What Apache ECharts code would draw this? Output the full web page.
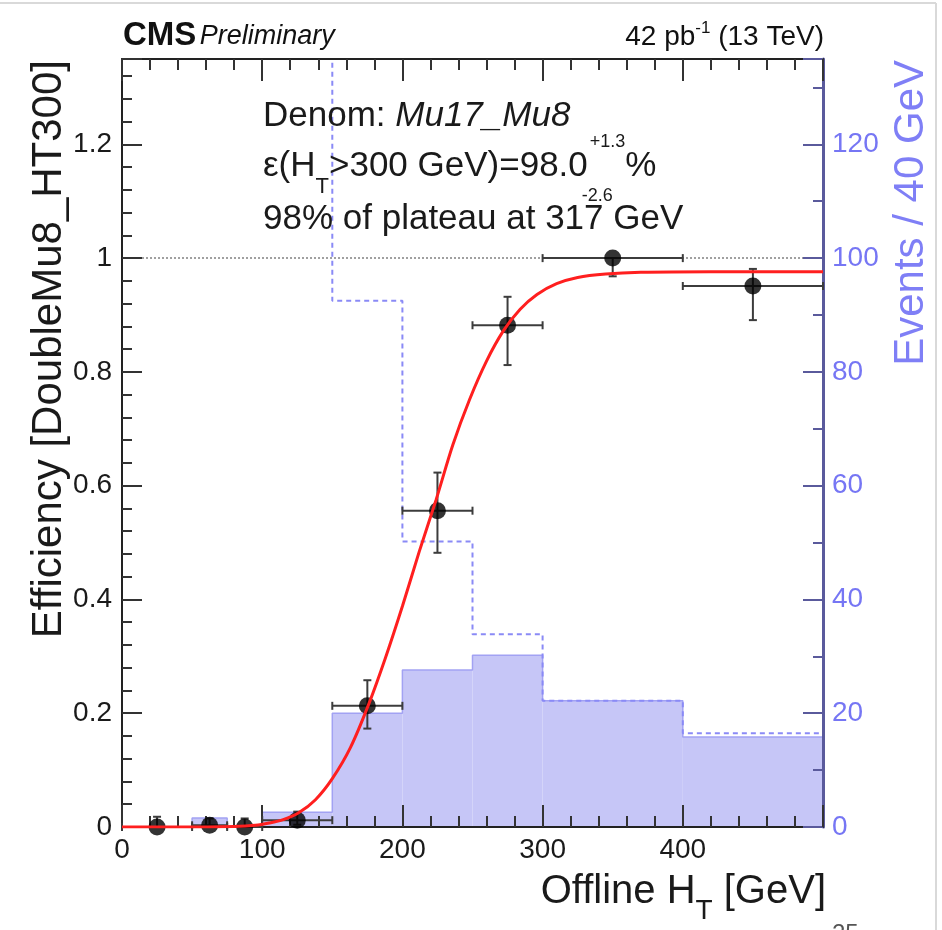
<!DOCTYPE html>
<html>
<head>
<meta charset="utf-8">
<script src="https://cdn.jsdelivr.net/npm/echarts@6/dist/echarts.min.js"></script>
<style>
  html, body { margin: 0; padding: 0; background: #fff; }
  #chart { width: 942px; height: 930px; }
</style>
</head>
<body>
<div id="chart"></div>
<script>
// ---- data ----
// HT bin edges [GeV] of the efficiency points and the filled histogram
const binEdges = [0, 50, 75, 100, 150, 200, 250, 300, 400, 500];
// filled histogram, events per bin (right axis)
const eventsFilled = [0, 1.6, 0, 2.6, 20.0, 27.6, 30.2, 22.2, 15.8];
// dashed histogram (right axis); the 100-150 GeV bin is above the axis range
const dashedEdges = [100, 150, 200, 250, 300, 400, 500];
const eventsDashed = [160, 92.5, 50.2, 33.9, 22.2, 16.5];
// efficiency points (left axis)
const effX = [25, 62.5, 87.5, 125, 175, 225, 275, 350, 450];
const effY = [0.0, 0.003, 0.0, 0.012, 0.213, 0.556, 0.882, 1.0, 0.951];
const effErrUp = [0.018, 0.012, 0.015, 0.015, 0.045, 0.067, 0.05, 0.0, 0.03];
const effErrDown = [0.0, 0.003, 0.0, 0.008, 0.04, 0.074, 0.07, 0.032, 0.06];
// fitted turn-on curve
const fitX = [0, 40, 80, 95, 105, 115, 126, 138, 150, 163, 176, 188, 200, 212, 224, 236, 248, 260, 272, 284, 296, 310, 325, 345, 370, 420, 500];
const fitY = [0, 0, 0.001, 0.003, 0.007, 0.013, 0.025, 0.048, 0.085, 0.14, 0.216, 0.298, 0.388, 0.484, 0.575, 0.672, 0.752, 0.819, 0.872, 0.910, 0.936, 0.955, 0.966, 0.972, 0.975, 0.976, 0.976];
// tick labels
const xTickValues = [0, 100, 200, 300, 400];
const xTickLabels = ['0', '100', '200', '300', '400'];
const effTickValues = [0, 0.2, 0.4, 0.6, 0.8, 1.0, 1.2];
const effTickLabels = ['0', '0.2', '0.4', '0.6', '0.8', '1', '1.2'];
const evtTickValues = [0, 20, 40, 60, 80, 100, 120];
const evtTickLabels = ['0', '20', '40', '60', '80', '100', '120'];

// ---- styling ----
const FONT = '"Liberation Sans", Arial, Helvetica, sans-serif';
const BLUE_AXIS = '#5a5a9c';
const BLUE_TEXT = '#7676f4';
const FILL = '#c6c6f7';

function labelFor(values, labels) {
  return function (v) {
    for (let i = 0; i < values.length; i++) {
      if (Math.abs(values[i] - v) < 1e-6) return labels[i];
    }
    return '';
  };
}

// step outline built from bin edges and contents
function stepPath(edges, vals, startAtZero) {
  const pts = [];
  if (startAtZero) pts.push([edges[0], 0]);
  for (let i = 0; i < vals.length; i++) {
    pts.push([edges[i], vals[i]]);
    pts.push([edges[i + 1], vals[i]]);
  }
  return pts;
}

const histData = eventsFilled.map((v, i) => [binEdges[i], binEdges[i + 1], v]);
const pointData = effX.map((x, i) => [x, effY[i]]);
const errData = effX.map((x, i) => [x, effY[i], binEdges[i], binEdges[i + 1],
  effY[i] - effErrDown[i], effY[i] + effErrUp[i]]);
const fitData = fitX.map((x, i) => [x, fitY[i]]);

// ---- text helpers ----
const mctx = document.createElement('canvas').getContext('2d');
function fontOf(r) {
  return (r.italic ? 'italic ' : '') + (r.bold ? 'bold ' : '') + r.size + 'px ' + FONT;
}
function widthOf(r) { mctx.font = fontOf(r); return mctx.measureText(r.text).width; }
function textEl(x, y, r, color) {
  return {
    type: 'text', x: x, y: y, z: 100,
    style: {
      text: r.text, font: fontOf(r), fill: r.color || color,
      textAlign: 'left', align: 'left',
      textVerticalAlign: 'middle', verticalAlign: 'middle'
    }
  };
}
// lays out a run list on one line; items may be {stack:[sup, sub]}
function textLine(x, y, list, color, alignRight) {
  const widths = list.map(r => r.stack ? Math.max(...r.stack.map(s => widthOf(s) + (s.dx || 0))) : widthOf(r));
  const total = widths.reduce((a, b) => a + b, 0);
  let cx = alignRight ? x - total : x;
  const els = [];
  list.forEach((r, i) => {
    if (r.stack) {
      r.stack.forEach(s => els.push(textEl(cx + (s.dx || 0), y + (s.dy || 0), s, color)));
    } else {
      els.push(textEl(cx, y + (r.dy || 0), r, color));
    }
    cx += widths[i];
  });
  return els;
}

const graphics = [];
// page frame
graphics.push({ type: 'line', shape: { x1: 0, y1: 3, x2: 936, y2: 3 }, style: { stroke: '#d9d9d9', lineWidth: 2 }, z: 100 });
graphics.push({ type: 'line', shape: { x1: 936, y1: 3, x2: 936, y2: 930 }, style: { stroke: '#d9d9d9', lineWidth: 2 }, z: 100 });
// page number
graphics.push(textEl(832, 934, { text: '25', size: 24 }, '#555'));

// header
graphics.push(...textLine(123, 36, [
  { text: 'CMS', size: 33, bold: true },
  { text: ' ', size: 12 },
  { text: 'Preliminary', size: 27, italic: true }
], '#111'));
graphics.push(...textLine(824, 37, [
  { text: '42 pb', size: 28 },
  { text: '-1', size: 17, dy: -9 },
  { text: ' (13 TeV)', size: 28 }
], '#111', true));

// annotation block
graphics.push(...textLine(263, 116, [
  { text: 'Denom: ', size: 35 },
  { text: 'Mu17_Mu8', size: 35, italic: true }
], '#1a1a1a'));
graphics.push(...textLine(263, 166, [
  { text: '\u03b5(H', size: 35 },
  { text: 'T', size: 22, dy: 21 },
  { text: '>300 GeV)=98.0', size: 35 },
  { stack: [ { text: '+1.3', size: 18, dy: -24, dx: 2 }, { text: '-2.6', size: 18, dy: 30, dx: -6 } ] },
  { text: '%', size: 35 }
], '#1a1a1a'));
graphics.push(...textLine(263, 219, [
  { text: '98% of plateau at 317 GeV', size: 35 }
], '#1a1a1a'));

// axis titles
graphics.push(...textLine(826, 892, [
  { text: 'Offline H', size: 40 },
  { text: 'T', size: 28, dy: 19 },
  { text: ' [GeV]', size: 40 }
], '#1a1a1a', true));
graphics.push({
  type: 'text', x: 49, y: 60, rotation: Math.PI / 2, z: 100,
  style: { text: 'Efficiency [DoubleMu8_HT300]', font: '42px ' + FONT, fill: '#1a1a1a',
    textAlign: 'right', align: 'right', textVerticalAlign: 'middle', verticalAlign: 'middle' }
});
graphics.push({
  type: 'text', x: 911, y: 60, rotation: Math.PI / 2, z: 100,
  style: { text: 'Events / 40 GeV', font: '42px ' + FONT, fill: '#7f7ff6',
    textAlign: 'right', align: 'right', textVerticalAlign: 'middle', verticalAlign: 'middle' }
});

function xAxisCfg(pos, showLabels) {
  return {
    type: 'value', position: pos, min: 0, max: 500, interval: 100, z: 5,
    axisLine: { show: true, onZero: false, lineStyle: { color: '#222', width: 2 } },
    axisTick: { show: true, inside: true, length: 22, lineStyle: { color: '#333', width: 2 } },
    minorTick: { show: true, splitNumber: 5, length: 11, lineStyle: { color: '#333', width: 2 } },
    splitLine: { show: false },
    axisLabel: { show: showLabels, fontSize: 28, fontFamily: FONT, color: '#1a1a1a', margin: 9,
      formatter: labelFor(xTickValues, xTickLabels), showMaxLabel: false }
  };
}

const option = {
  backgroundColor: '#fff',
  animation: false,
  grid: { left: 122, top: 59, width: 701, height: 768, containLabel: false },
  xAxis: [xAxisCfg('bottom', true), xAxisCfg('top', false)],
  yAxis: [
    {
      type: 'value', position: 'left', min: 0, max: 1.35, interval: 0.2, z: 5,
      axisLine: { show: true, onZero: false, lineStyle: { color: '#222', width: 2 } },
      axisTick: { show: true, inside: true, length: 20, lineStyle: { color: '#333', width: 2 } },
      minorTick: { show: true, splitNumber: 5, length: 10, lineStyle: { color: '#333', width: 2 } },
      splitLine: { show: false },
      axisLabel: { fontSize: 28, fontFamily: FONT, color: '#1a1a1a', margin: 10,
        showMaxLabel: false, formatter: labelFor(effTickValues, effTickLabels) }
    },
    {
      type: 'value', position: 'right', min: 0, max: 135, interval: 20, z: 5,
      axisLine: { show: true, onZero: false, lineStyle: { color: BLUE_AXIS, width: 3 } },
      axisTick: { show: true, inside: true, length: 20, lineStyle: { color: BLUE_AXIS, width: 2 } },
      minorTick: { show: true, splitNumber: 2, length: 10, lineStyle: { color: BLUE_AXIS, width: 2 } },
      splitLine: { show: false },
      axisLabel: { fontSize: 28, fontFamily: FONT, color: BLUE_TEXT, margin: 9,
        showMaxLabel: false, formatter: labelFor(evtTickValues, evtTickLabels) }
    }
  ],
  graphic: { elements: graphics },
  series: [
    {
      // filled histogram
      type: 'custom', xAxisIndex: 0, yAxisIndex: 1, z: 2, clip: true, silent: true,
      data: histData,
      encode: { x: [0, 1], y: 2 },
      renderItem: function (params, api) {
        const p0 = api.coord([api.value(0), api.value(2)]);
        const p1 = api.coord([api.value(1), 0]);
        return { type: 'rect', shape: { x: p0[0], y: p0[1], width: p1[0] - p0[0], height: p1[1] - p0[1] },
          style: { fill: FILL } };
      }
    },
    {
      // outline of the filled histogram
      type: 'line', xAxisIndex: 0, yAxisIndex: 1, z: 3, silent: true,
      data: stepPath(binEdges, eventsFilled, true),
      showSymbol: false, symbol: 'none',
      lineStyle: { color: '#a2a2f3', width: 1.5 }
    },
    {
      // dashed histogram
      type: 'line', xAxisIndex: 0, yAxisIndex: 1, z: 3, silent: true, clip: true,
      data: stepPath(dashedEdges, eventsDashed, false),
      showSymbol: false, symbol: 'none',
      lineStyle: { color: '#8a8af6', width: 2, type: [5, 4] }
    },
    {
      // error bars
      type: 'custom', xAxisIndex: 0, yAxisIndex: 0, z: 8, silent: true,
      data: errData,
      encode: { x: [0, 2, 3], y: [1, 4, 5] },
      renderItem: function (params, api) {
        const x = api.value(0), y = api.value(1);
        const c = api.coord([x, y]);
        const l = api.coord([api.value(2), y]);
        const r = api.coord([api.value(3), y]);
        const b = api.coord([x, api.value(4)]);
        const t = api.coord([x, api.value(5)]);
        const st = { stroke: '#3c3c3c', lineWidth: 2 };
        const cap = 4;
        const kids = [
          { type: 'line', shape: { x1: l[0], y1: c[1], x2: r[0], y2: c[1] }, style: st },
          { type: 'line', shape: { x1: l[0], y1: c[1] - cap, x2: l[0], y2: c[1] + cap }, style: st },
          { type: 'line', shape: { x1: r[0], y1: c[1] - cap, x2: r[0], y2: c[1] + cap }, style: st }
        ];
        if (b[1] - t[1] > 1) {
          kids.push({ type: 'line', shape: { x1: c[0], y1: t[1], x2: c[0], y2: b[1] }, style: st });
          if (c[1] - t[1] > 1) kids.push({ type: 'line', shape: { x1: c[0] - cap, y1: t[1], x2: c[0] + cap, y2: t[1] }, style: st });
          if (b[1] - c[1] > 1) kids.push({ type: 'line', shape: { x1: c[0] - cap, y1: b[1], x2: c[0] + cap, y2: b[1] }, style: st });
        }
        return { type: 'group', children: kids };
      }
    },
    {
      // efficiency points
      type: 'scatter', xAxisIndex: 0, yAxisIndex: 0, z: 9, silent: true, clip: false,
      data: pointData, symbol: 'circle', symbolSize: 17,
      itemStyle: { color: '#000' },
      markLine: {
        silent: true, symbol: 'none', z: 1,
        label: { show: false },
        lineStyle: { color: '#a0a0a0', width: 2, type: [2, 2] },
        data: [{ yAxis: 1 }]
      }
    },
    {
      // fitted turn-on curve
      type: 'line', xAxisIndex: 0, yAxisIndex: 0, z: 10, silent: true, clip: true,
      data: fitData, smooth: 0.3,
      showSymbol: false, symbol: 'none',
      lineStyle: { color: '#ff1f1f', width: 3 }
    }
  ]
};

const chart = echarts.init(document.getElementById('chart'), null, { renderer: 'canvas' });
chart.setOption(option);
</script>
</body>
</html>
